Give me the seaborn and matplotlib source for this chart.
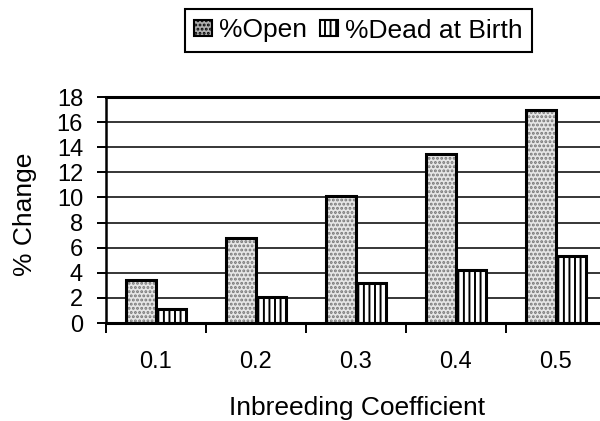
import pandas as pd
import matplotlib
matplotlib.use("Agg")
import matplotlib.pyplot as plt
import seaborn as sns
from matplotlib.patches import Rectangle

# --- Data ---
coefficients = ["0.1", "0.2", "0.3", "0.4", "0.5"]
pct_open = [3.4, 6.8, 10.1, 13.5, 17.0]
pct_dead = [1.1, 2.1, 3.2, 4.2, 5.3]
series_names = ["%Open", "%Dead at Birth"]

df = pd.DataFrame({
    "Coefficient": coefficients * 2,
    "Change": pct_open + pct_dead,
    "Series": [series_names[0]] * len(coefficients) + [series_names[1]] * len(coefficients),
})

sns.set_style("white")
plt.rcParams["font.family"] = ["Liberation Sans", "DejaVu Sans"]
plt.rcParams["hatch.linewidth"] = 1.4
plt.rcParams["text.color"] = "black"
plt.rcParams["axes.labelcolor"] = "black"
plt.rcParams["xtick.color"] = "black"
plt.rcParams["ytick.color"] = "black"

fig = plt.figure(figsize=(6, 4.21), dpi=100)
ax = fig.add_axes([106 / 600, (421 - 323) / 421, 494 / 600, 226 / 421])

sns.barplot(data=df, x="Coefficient", y="Change", hue="Series",
            palette=["#e6e6e6", "white"], saturation=1, width=0.6, gap=0,
            edgecolor="black", linewidth=2.2, legend=False, ax=ax)

# hatches: light stipple for open, vertical lines for dead at birth
open_bars, dead_bars = ax.containers[0], ax.containers[1]
for bar in dead_bars:
    bar.set_hatch("|||")
for bar in open_bars:
    bar.set_hatch("....")
    bar.set_edgecolor("#767676")
    bar.set_linewidth(0)
    # black outline on top of the grey-stippled bar
    ax.add_patch(Rectangle(bar.get_xy(), bar.get_width(), bar.get_height(),
                           fill=False, edgecolor="black", linewidth=2.2, zorder=bar.get_zorder() + 0.1))

# --- axes ---
ax.set_ylim(0, 18)
ax.set_yticks(range(0, 19, 2))
ax.set_xlim(-0.5, 4.44)
ax.set_xticks([-0.5, 0.5, 1.5, 2.5, 3.5])
ax.set_xticklabels([])
ax.set_xticks(range(len(coefficients)), minor=True)
ax.set_xticklabels(coefficients, minor=True)

ax.yaxis.grid(True, color="black", linewidth=1.1)
ax.set_axisbelow(True)

ax.tick_params(axis="y", which="major", left=True, direction="out", length=6.5,
               width=1.4, pad=10, labelsize=17, color="black")
ax.tick_params(axis="x", which="major", bottom=True, direction="out", length=7,
               width=1.4, color="black")
ax.tick_params(axis="x", which="minor", bottom=True, length=0, pad=20.5, labelsize=17)

for side in ["left", "bottom", "top"]:
    ax.spines[side].set_visible(True)
    ax.spines[side].set_color("black")
ax.spines["left"].set_linewidth(1.8)
ax.spines["bottom"].set_linewidth(2.2)
ax.spines["top"].set_linewidth(2.2)
ax.spines["right"].set_visible(False)

ax.set_xlabel("Inbreeding Coefficient", fontsize=19)
ax.set_ylabel("% Change", fontsize=19)
ax.xaxis.set_label_coords(0.509, -0.325)
ax.yaxis.set_label_coords(-0.14, 0.48)

# --- legend ---
open_handle = Rectangle((0, 0), 1, 1, facecolor="#b0b0b0", edgecolor="black",
                        hatch="....", linewidth=1.5)
dead_handle = Rectangle((0, 0), 1, 1, facecolor="white", edgecolor="black",
                        hatch="|||", linewidth=1.5)
leg = fig.legend([open_handle, dead_handle], series_names, loc="center",
                 bbox_to_anchor=(358.5 / 600, 1 - 30.5 / 421), ncol=2,
                 fontsize=19, frameon=True, fancybox=False, shadow=False,
                 handlelength=0.68, handleheight=0.57, handletextpad=0.27,
                 columnspacing=0.5, borderpad=0.35, borderaxespad=0)
leg.get_frame().set_edgecolor("black")
leg.get_frame().set_linewidth(1.5)
leg.get_frame().set_alpha(1)

fig.savefig("out.png", dpi=100)
